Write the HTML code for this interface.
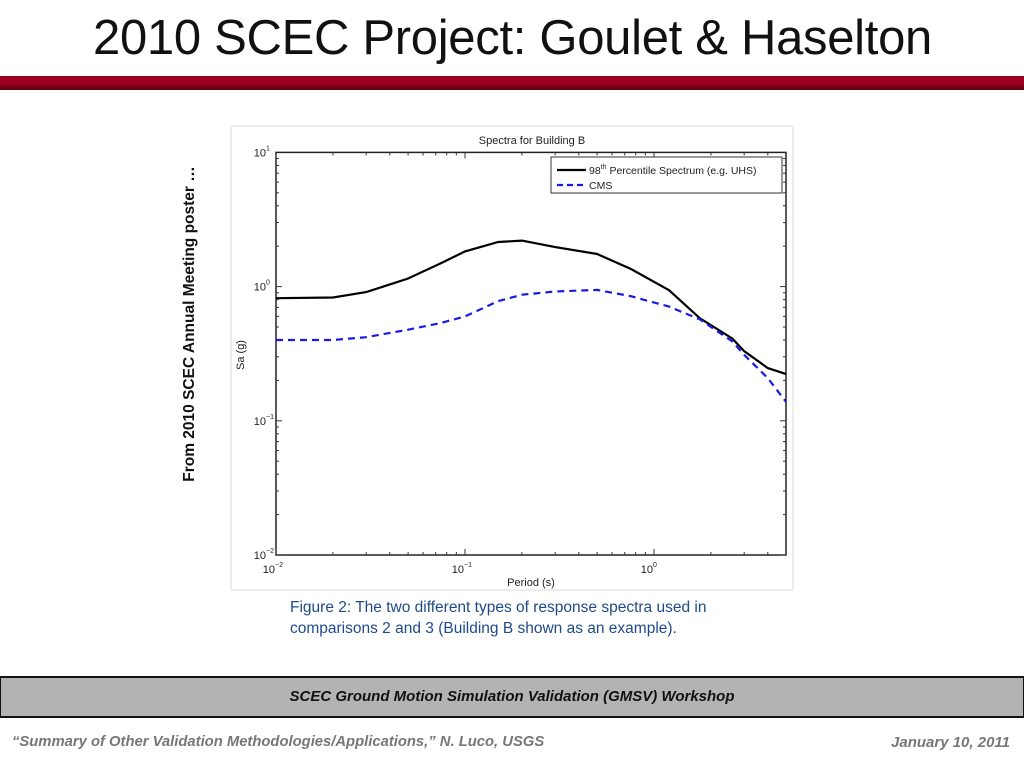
<!DOCTYPE html>
<html><head><meta charset="utf-8"><style>
body{margin:0;width:1024px;height:768px;background:#fff;position:relative;overflow:hidden;font-family:"Liberation Sans",sans-serif}
.abs{position:absolute}
</style></head><body>
<div class="abs" style="left:93px;top:10px;font-size:49px;color:#111;white-space:nowrap;letter-spacing:-0.3px">2010 SCEC Project: Goulet &amp; Haselton</div>
<div class="abs" style="left:0;top:76px;width:1024px;height:14px;background:linear-gradient(#a00022 0%,#98001f 55%,#5a0012 100%)"></div>
<div class="abs" style="left:190px;top:324px;transform:translate(-50%,-50%) rotate(-90deg);font-size:15.5px;font-weight:bold;white-space:nowrap;color:#111">From 2010 SCEC Annual Meeting poster …</div>
<svg class="abs" style="left:0;top:0" width="1024" height="768">
<rect x="231" y="126" width="562" height="464" fill="#fff" stroke="#ddd"/>
<g id="axes"></g>
<g id="marks"></g>
</svg>
<div class="abs" style="left:290px;top:597px;font-size:15.5px;line-height:21px;color:#1f4a8a;white-space:nowrap">Figure 2: The two different types of response spectra used in<br>comparisons 2 and 3 (Building B shown as an example).</div>
<div class="abs" style="left:0;top:676px;width:1022px;height:38px;background:#b3b3b3;border:2px solid #111;border-left:1px solid #111;text-align:center;line-height:38px;font-size:15px;font-weight:bold;font-style:italic;color:#111">SCEC Ground Motion Simulation Validation (GMSV) Workshop</div>
<div class="abs" style="left:12px;top:734px;font-size:14.8px;font-weight:bold;font-style:italic;color:#777;white-space:nowrap">“Summary of Other Validation Methodologies/Applications,” N. Luco, USGS</div>
<div class="abs" style="right:14px;top:734px;font-size:15px;font-weight:bold;font-style:italic;color:#777">January 10, 2011</div>
<script>
const periods=[0.01,0.02,0.03,0.05,0.075,0.1,0.15,0.2,0.3,0.5,0.75,1.2,1.75,2.6,3,4,5];
const uhs=[0.82,0.83,0.91,1.15,1.50,1.83,2.15,2.20,1.97,1.75,1.36,0.94,0.58,0.41,0.33,0.247,0.223];
const cms=[0.40,0.40,0.42,0.477,0.536,0.60,0.78,0.87,0.92,0.945,0.85,0.71,0.57,0.39,0.31,0.208,0.138];
const xTicks=[-2,-1,0];
const yTicks=[1,0,-1,-2];
const NS='http://www.w3.org/2000/svg';
const X0=276,X1=786,XD=189,Y0=555,YD=134.2;
const sx=t=>X0+(Math.log10(t)+2)*XD;
const sy=v=>Y0-(Math.log10(v)+2)*YD;
function mk(tag,at,parent){const e=document.createElementNS(NS,tag);for(const k in at)e.setAttribute(k,at[k]);parent.appendChild(e);return e;}
const ax=document.getElementById('axes'),mg=document.getElementById('marks');
const Ytop=sy(10);
const frame=mk('rect',{x:X0,y:Ytop,width:X1-X0,height:Y0-Ytop,fill:'none',stroke:'#222','stroke-width':1.5},ax);


for(let d=-2;d<=0;d++){for(let m=1;m<=9;m++){const t=m*Math.pow(10,d);const x=sx(t);if(x>X1+0.5)continue;const L=m===1?6:3;
mk('line',{x1:x,x2:x,y1:Y0,y2:Y0-L,stroke:'#333'},ax);mk('line',{x1:x,x2:x,y1:Ytop,y2:Ytop+L,stroke:'#333'},ax);}}
xTicks.forEach(d=>{const x=sx(Math.pow(10,d));const t=mk('text',{x:x-1,y:Y0+18,'font-size':11,'text-anchor':'end',fill:'#222'},ax);t.textContent='10';


const s=mk('text',{x:x-1,y:Y0+12,'font-size':7,fill:'#222'},ax);s.textContent=String(d).replace('-','−');});
for(let d=-2;d<1;d++){for(let m=1;m<=9;m++){const v=m*Math.pow(10,d);const y=sy(v);const L=m===1?6:3;
mk('line',{x1:X0,x2:X0+L,y1:y,y2:y,stroke:'#333'},ax);mk('line',{x1:X1,x2:X1-L,y1:y,y2:y,stroke:'#333'},ax);}}
yTicks.forEach(d=>{const y=sy(Math.pow(10,d));const t=mk('text',{x:X0-10,y:y+4,'font-size':11,'text-anchor':'end',fill:'#222'},ax);t.textContent='10';


const s=mk('text',{x:X0-10,y:y-2,'font-size':7,fill:'#222'},ax);s.textContent=String(d).replace('-','−');});
const ttl=mk('text',{x:532,y:144,'font-size':11,'text-anchor':'middle',fill:'#222'},ax);ttl.textContent='Spectra for Building B';


const xl=mk('text',{x:531,y:586,'font-size':11,'text-anchor':'middle',fill:'#222'},ax);xl.textContent='Period (s)';


const yl=mk('text',{x:244,y:355,'font-size':11,'text-anchor':'middle',fill:'#222',transform:'rotate(-90 244 355)'},ax);yl.textContent='Sa (g)';


const pts=a=>periods.map((t,i)=>sx(t).toFixed(1)+','+sy(a[i]).toFixed(1)).join(' ');
const l1=mk('polyline',{points:pts(uhs),fill:'none',stroke:'#000','stroke-width':2.2},mg);


const l2=mk('polyline',{points:pts(cms),fill:'none',stroke:'#1a1ae6','stroke-width':2.2,'stroke-dasharray':'7,5'},mg);


const lg=mk('g',{},mg);


mk('rect',{x:551,y:157,width:231,height:36,fill:'#fff',stroke:'#333'},lg);
mk('line',{x1:557,x2:586,y1:170,y2:170,stroke:'#000','stroke-width':2.2},lg);
mk('line',{x1:557,x2:586,y1:185,y2:185,stroke:'#1a1ae6','stroke-width':2.2,'stroke-dasharray':'6,4'},lg);
const t1=mk('text',{x:589,y:174,'font-size':10.5,fill:'#222'},lg);t1.innerHTML='98<tspan dy="-5" font-size="7">th</tspan><tspan dy="5"> Percentile Spectrum (e.g. UHS)</tspan>';


const t2=mk('text',{x:589,y:189,'font-size':10.5,fill:'#222'},lg);t2.textContent='CMS';


</script>
</body></html>
